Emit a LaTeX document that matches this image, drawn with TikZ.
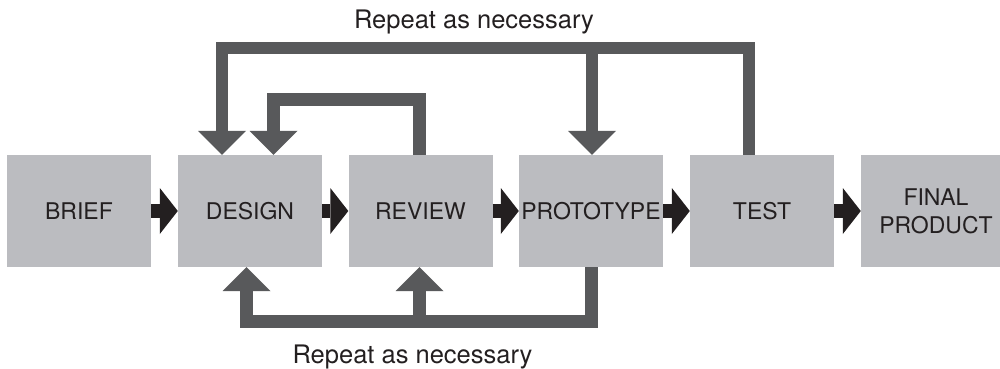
\documentclass[tikz,border=0pt]{standalone}
\usepackage{fontspec}
\setmainfont{TeX Gyre Heros}
\usetikzlibrary{arrows.meta}
\definecolor{boxgray}{RGB}{187,188,192}
\definecolor{loopgray}{RGB}{88,89,91}
\definecolor{inkblack}{RGB}{35,31,32}
\tikzset{
  stagebox/.style={fill=boxgray, draw=none, minimum width=144pt, minimum height=112pt,
    inner sep=0pt, align=center, text=inkblack, font=\fontsize{23}{28}\selectfont},
  flowarrow/.style={draw=inkblack, line width=14pt,
    -{Triangle[length=18pt, width=46pt, line width=0pt]}},
  looparrow/.style={draw=loopgray, line width=12.5pt, line join=miter,
    -{Triangle[length=24pt, width=48pt, line width=0pt]}},
  note/.style={text=inkblack, font=\fontsize{25.5}{30}\selectfont, inner sep=0pt, anchor=base}
}
\begin{document}
\begin{tikzpicture}[x=1pt, y=1pt]
  \clip (0,0) rectangle (1000,368);

  % process stages
  \node[stagebox] (brief)     at (79,157)    {BRIEF};
  \node[stagebox] (design)    at (250,157)   {DESIGN};
  \node[stagebox] (review)    at (420.5,157) {REVIEW};
  \node[stagebox] (prototype) at (591,157)   {PROTOTYPE};
  \node[stagebox] (test)      at (762,157)   {TEST};
  \node[stagebox, minimum width=150pt] (final) at (936,157) {FINAL\\PRODUCT};

  % forward flow
  \draw[flowarrow] (brief.east) -- (design.west);
  \draw[flowarrow] (design.east) -- (review.west);
  \draw[flowarrow] (review.east) -- (prototype.west);
  \draw[flowarrow] (prototype.east) -- (test.west);
  \draw[flowarrow] (test.east) -- (final.west);

  % bar heights of the feedback loops
  \coordinate (topbar) at (0,320);
  \coordinate (botbar) at (0,46.5);

  % outer loop from TEST back to DESIGN, with a branch to PROTOTYPE
  \draw[looparrow] ([xshift=-13pt]test.north) -- ++(0,107) -| ([xshift=-28pt]design.north);
  \draw[looparrow] ([xshift=1pt]prototype.north |- topbar) -- ([xshift=1pt]prototype.north);

  % inner loop from REVIEW back to DESIGN
  \draw[looparrow] ([xshift=-1pt]review.north) -- ++(0,55.5) -| ([xshift=23.5pt]design.north);

  % lower loop from PROTOTYPE back to DESIGN, with a branch to REVIEW
  \draw[looparrow] ([xshift=0.5pt]prototype.south) -- ++(0,-54.5) -| ([xshift=-3.5pt]design.south);
  \draw[looparrow] ([xshift=-1pt]review.south |- botbar) -- ([xshift=-1pt]review.south);

  % loop captions
  \node[note] (toplabel) at (474,340) {Repeat as necessary};
  \node[note] (botlabel) at (412.5,5) {Repeat as necessary};
\end{tikzpicture}
\end{document}
